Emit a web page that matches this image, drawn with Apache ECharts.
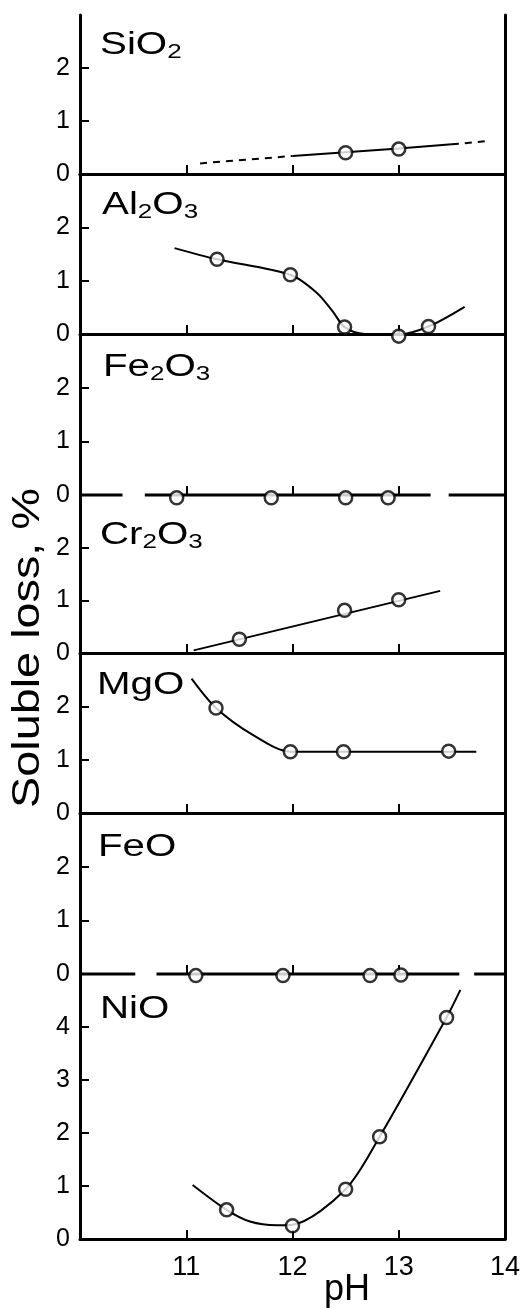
<!DOCTYPE html>
<html>
<head>
<meta charset="utf-8">
<script src="https://cdn.jsdelivr.net/npm/echarts@6/dist/echarts.min.js"></script>
<style>
  html, body { margin: 0; padding: 0; background: #fff; }
  #chart { width: 528px; height: 1309px; }
</style>
</head>
<body>
<div id="chart"></div>
<script>
// Soluble loss (%) vs pH, one panel per oxide
const panelNames = ['SiO2', 'Al2O3', 'Fe2O3', 'Cr2O3', 'MgO', 'FeO', 'NiO'];
const panelMax = [3, 3, 3, 3, 3, 3, 5];
const phMin = 10, phMax = 14;

const sio2Pts = [[12.5, 0.40], [13.0, 0.47]];
const sio2Fit = [[12.0, 0.34], [12.5, 0.41], [13.0, 0.48], [13.5, 0.56]];
const sio2DashLo = [[11.13, 0.20], [12.0, 0.34]];
const sio2DashHi = [[13.5, 0.56], [13.83, 0.62]];

const al2o3Pts = [[11.29, 1.40], [11.98, 1.11], [12.49, 0.13], [13.0, -0.04], [13.28, 0.14]];
const al2o3Fit = [[10.89, 1.61], [11.29, 1.40], [11.98, 1.11], [12.23, 0.77], [12.38, 0.42],
  [12.49, 0.13], [12.68, 0.0], [13.0, -0.01], [13.28, 0.14], [13.62, 0.51]];

const fe2o3Pts = [[10.91, -0.05], [11.8, -0.05], [12.5, -0.05], [12.9, -0.05]];
const fe2o3Axis = [[10, 0], [10.4, 0], [10.5, '-'], [10.61, 0], [13.3, 0], [13.4, '-'], [13.47, 0], [14, 0]];

const cr2o3Pts = [[11.5, 0.26], [12.49, 0.81], [13.0, 1.01]];
const cr2o3Fit = [[11.07, 0.05], [13.39, 1.18]];

const mgoPts = [[11.28, 1.97], [11.98, 1.15], [12.48, 1.15], [13.47, 1.16]];
const mgoFit = [[11.05, 2.52], [11.28, 1.97], [11.63, 1.46], [11.98, 1.15], [12.48, 1.15], [13.47, 1.15], [13.73, 1.15]];

const feoPts = [[11.09, -0.03], [11.91, -0.03], [12.73, -0.03], [13.02, -0.02]];
const feoAxis = [[10, 0], [10.52, 0], [10.6, '-'], [10.72, 0], [13.57, 0], [13.65, '-'], [13.71, 0], [14, 0]];

const nioPts = [[11.38, 0.55], [12.0, 0.25], [12.5, 0.94], [12.82, 1.93], [13.45, 4.18]];
const nioFit = [[11.06, 1.02], [11.38, 0.55], [11.6, 0.33], [11.85, 0.26], [12.0, 0.27],
  [12.5, 0.94], [12.82, 1.93], [13.45, 4.18], [13.58, 4.7]];

// layout
const tops = [15, 174, 334, 495, 653, 813, 974];
const bottomEdge = 1239;
const left = 80, right = 23;
const titleX = [100, 102, 103, 100, 97, 98, 100];
const titleCapTop = [33, 193, 355, 523, 673, 835, 997];
const brokenBase = [2, 5]; // panels whose zero line is drawn broken
const FONT = '"Liberation Sans", Arial, Helvetica, sans-serif';

const chart = echarts.init(document.getElementById('chart'), null, { renderer: 'canvas' });

const grid = tops.map((t, i) => ({
  left, right, top: t,
  height: (i < tops.length - 1 ? tops[i + 1] : bottomEdge) - t
}));

const xAxis = grid.map((g, i) => ({
  type: 'value', gridIndex: i, min: phMin, max: phMax, interval: 1,
  axisLine: { show: !brokenBase.includes(i), lineStyle: { color: '#000', width: 3 } },
  axisTick: { show: true, inside: true, length: 9, lineStyle: { color: '#000', width: 2 } },
  axisLabel: {
    show: i === tops.length - 1, color: '#000', fontSize: 27, fontFamily: FONT, margin: 15,
    showMinLabel: false
  },
  splitLine: { show: false }
}));
// top border of the first panel
xAxis.push({
  type: 'value', gridIndex: 0, position: 'top', min: phMin, max: phMax,
  axisLine: { show: true, lineStyle: { color: '#000', width: 3 } },
  axisTick: { show: false }, axisLabel: { show: false }, splitLine: { show: false }
});

const yAxis = grid.map((g, i) => ({
  type: 'value', gridIndex: i, min: 0, max: panelMax[i], interval: 1,
  axisLine: { show: true, lineStyle: { color: '#000', width: 3 } },
  axisTick: { show: true, inside: true, length: 9, lineStyle: { color: '#000', width: 2 } },
  axisLabel: { color: '#000', fontSize: 25, fontFamily: FONT, margin: 10, showMaxLabel: false },
  splitLine: { show: false }
}));
// right border of every panel
grid.forEach((g, i) => yAxis.push({
  type: 'value', gridIndex: i, position: 'right', min: 0, max: panelMax[i],
  axisLine: { show: true, lineStyle: { color: '#000', width: 3 } },
  axisTick: { show: false }, axisLabel: { show: false }, splitLine: { show: false }
}));

function fit(i, data, extra) {
  return Object.assign({
    type: 'line', xAxisIndex: i, yAxisIndex: i, data, symbol: 'none',
    smooth: 0.35, clip: false, silent: true,
    lineStyle: { color: '#000', width: 2 }
  }, extra || {});
}
function pts(i, data) {
  return {
    type: 'scatter', xAxisIndex: i, yAxisIndex: i, data, symbol: 'circle',
    symbolSize: 13, clip: false, z: 5,
    itemStyle: { color: '#fff', borderColor: '#000', borderWidth: 2.5 }
  };
}

const series = [
  fit(0, sio2DashLo, { smooth: false, lineStyle: { color: '#000', width: 2, type: [7, 6] } }),
  fit(0, sio2Fit, { smooth: false }),
  fit(0, sio2DashHi, { smooth: false, lineStyle: { color: '#000', width: 2, type: [7, 6] } }),
  pts(0, sio2Pts),

  fit(1, al2o3Fit, { smooth: 0.3 }),
  pts(1, al2o3Pts),

  fit(2, fe2o3Axis, { smooth: false, connectNulls: false, lineStyle: { color: '#000', width: 3 } }),
  pts(2, fe2o3Pts),

  fit(3, cr2o3Fit, { smooth: false }),
  pts(3, cr2o3Pts),

  fit(4, mgoFit, { smooth: 0.3 }),
  pts(4, mgoPts),

  fit(5, feoAxis, { smooth: false, connectNulls: false, lineStyle: { color: '#000', width: 3 } }),
  pts(5, feoPts),

  fit(6, nioFit, { smooth: 0.3 }),
  pts(6, nioPts)
];

// panel titles with subscripts
function richName(name) {
  return name.split(/(\d)/).filter(Boolean)
    .map(t => /\d/.test(t) ? '{s|' + t + '}' : '{m|' + t + '}').join('');
}
const rich = {
  m: { fontSize: 31, lineHeight: 34, fontFamily: FONT, fill: '#000', color: '#000' },
  s: { fontSize: 20, lineHeight: 24, fontFamily: FONT, fill: '#000', color: '#000', verticalAlign: 'bottom' }
};
const graphic = panelNames.map((n, i) => ({
  type: 'text', x: titleX[i], y: titleCapTop[i] - 5, scaleX: 1.3, silent: true,
  style: { text: richName(n), rich, fill: '#000', align: 'left', verticalAlign: 'top',
    textAlign: 'left', textVerticalAlign: 'top' }
}));
graphic.push({
  type: 'text', x: 28, y: 648, rotation: Math.PI / 2, scaleX: 1.2, silent: true,
  style: { text: 'Soluble loss, %', fill: '#000', font: '39px ' + FONT,
    align: 'center', verticalAlign: 'middle', textAlign: 'center', textVerticalAlign: 'middle' }
});
graphic.push({
  type: 'text', x: 347, y: 1290, silent: true,
  style: { text: 'pH', fill: '#000', font: '36px ' + FONT,
    align: 'center', verticalAlign: 'middle', textAlign: 'center', textVerticalAlign: 'middle' }
});

chart.setOption({
  backgroundColor: '#fff',
  animation: false,
  grid, xAxis, yAxis, series, graphic
});
</script>
</body>
</html>
